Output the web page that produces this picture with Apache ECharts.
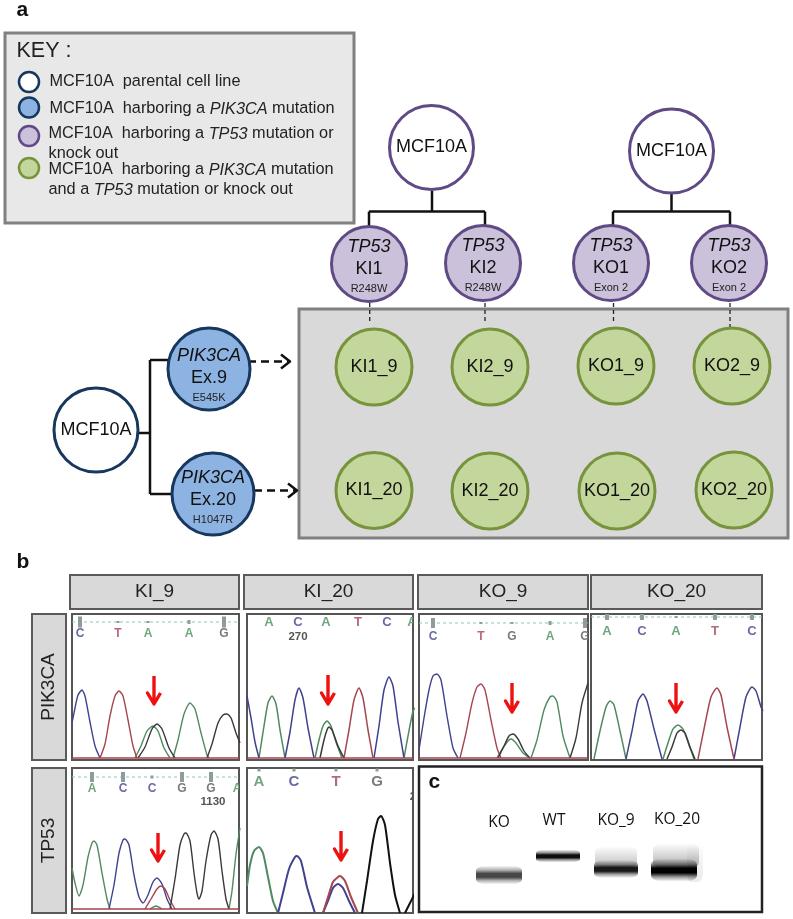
<!DOCTYPE html>
<html><head><meta charset="utf-8">
<style>html,body{margin:0;padding:0;background:#fff}#c{width:793px;height:919px}</style>
<script src="https://cdn.jsdelivr.net/npm/echarts@6/dist/echarts.min.js"></script>
</head><body><div id="c"></div>
<script>
const FONT = '"Liberation Sans", Arial, sans-serif';

// ---------- key ----------
const keyLines = [
  '{n|MCF10A  parental cell line}',
  '{n|MCF10A  harboring a }{i|PIK3CA}{n| mutation}',
  '{n|MCF10A  harboring a }{i|TP53}{n| mutation or}',
  '{n|knock out}',
  '{n|MCF10A  harboring a }{i|PIK3CA}{n| mutation}',
  '{n|and a }{i|TP53}{n| mutation or knock out}'
];
const keyLineX = [49, 49, 48, 48, 48, 48];
const keyLineY = [82, 109, 134, 154, 170, 190];
const keyDotY = [82, 107.5, 136, 168];

// ---------- lineage diagram ----------
const parentCenters = [[431.5, 147.5], [671.5, 151]];
const pikCenter = [96, 430];
const tpLabels = [['TP53', 'KI1', 'R248W'], ['TP53', 'KI2', 'R248W'], ['TP53', 'KO1', 'Exon 2'], ['TP53', 'KO2', 'Exon 2']];
const tpCenters = [[369, 264], [483, 263], [611, 263], [729, 263]];
const pikLabels = [['PIK3CA', 'Ex.9', 'E545K'], ['PIK3CA', 'Ex.20', 'H1047R']];
const pikCenters = [[209, 369], [213, 494]];
const doubleLabels = ['KI1_9', 'KI2_9', 'KO1_9', 'KO2_9', 'KI1_20', 'KI2_20', 'KO1_20', 'KO2_20'];
const doubleCenters = [[374, 367], [490, 367], [616, 366], [732, 366], [374, 490.5], [490, 491], [617, 491], [734, 490]];
const solidLinks = [
  [[139, 433], [150, 433]], [[150, 360], [150, 494]], [[150, 360], [170, 360]], [[150, 494], [172, 494]],
  [[432, 191], [432, 211.5]], [[369, 211.5], [485, 211.5]], [[369, 211.5], [369, 226]], [[485, 211.5], [485, 226]],
  [[671.5, 194], [671.5, 211.5]], [[613, 211.5], [730, 211.5]], [[613, 211.5], [613, 225]], [[730, 211.5], [730, 225]]
];
const dashedArrows = [[[248, 361.5], [290, 361.5]], [[254, 490.5], [297, 490.5]]];
const thinDashed = [[[369.7, 303], [369.7, 323]], [[485, 303], [485, 323]], [[613.5, 303], [613.5, 323]], [[730, 303], [730, 328]]];

// ---------- panel b ----------
const headerNames = ['KI_9', 'KI_20', 'KO_9', 'KO_20'];
const headerLeft = [70, 244, 418, 591];
const headerRight = [239, 413, 588, 762];
const rowNames = ['PIK3CA', 'TP53'];
const rowTop = [614, 768];
const rowBottom = [760, 913];

const panelLeft = [72, 247, 419, 591, 72, 247];
const panelRight = [239, 413, 588, 762, 239, 413];
const panelTop = [614, 614, 614, 614, 768, 768];
const panelBottom = [760, 760, 760, 760, 913, 913];
const panelBaseline = [758, 758, 758, 759, 909, 913];

const ki9Blue = [[0,35],[3,50],[6,63],[10,68],[13,62],[18,36],[23,12],[28,0]];
const ki9Red = [[28,0],[33,14],[38,42],[43,62],[47,67],[51,62],[56,38],[61,12],[65,0]];
const ki9Green = [[63,0],[69,12],[75,27],[81,32],[86,27],[92,10],[98,0],[100,'-'],[101,0],[106,18],[112,44],[118,55],[123,49],[129,25],[135,3],[137,0]];
const ki9Black = [[66,0],[73,11],[80,29],[85,34],[90,29],[97,10],[103,0],[120,'-'],[135,0],[140,14],[146,35],[151,43],[155,44],[159,40],[164,25],[168,15]];

const ki20Blue = [[0,62],[4,40],[8,16],[12,0],[20,'-'],[38,0],[43,26],[48,58],[52,70],[56,60],[61,30],[67,0],[100,'-'],[127,0],[132,32],[137,68],[142,81],[146,72],[151,36],[157,0]];
const ki20Green = [[12,0],[17,32],[21,55],[25,62],[29,54],[33,28],[38,0],[50,'-'],[68,0],[72,18],[76,32],[80,37],[84,32],[89,16],[95,0],[120,'-'],[157,0],[161,22],[166,47],[168,50]];
const ki20Black = [[73,0],[77,18],[80,28],[82,31],[85,28],[91,12],[97,0]];
const ki20Red = [[97,0],[102,28],[107,58],[112,70],[116,60],[121,28],[126,0]];

const ko9Blue = [[0,8],[5,40],[10,68],[14,82],[18,84],[22,78],[28,42],[34,10],[39,0]];
const ko9Red = [[41,0],[47,25],[53,55],[58,71],[62,74],[66,68],[72,38],[78,10],[82,0]];
const ko9Green = [[78,0],[84,10],[89,17],[92,19],[97,15],[104,5],[111,0],[111.5,'-'],[112,0],[118,18],[125,48],[131,61],[134,62],[138,56],[144,22],[151,0]];
const ko9Black = [[79,0],[85,12],[90,22],[94,24],[99,19],[105,7],[111,0],[130,'-'],[151,0],[157,20],[163,55],[169,75]];

const ko20Green = [[3,0],[9,28],[15,52],[19,58],[23,54],[29,28],[35,0],[50,'-'],[72,0],[77,16],[82,30],[87,34],[92,30],[98,14],[103,0]];
const ko20Blue = [[35,0],[41,28],[47,58],[52,65],[56,58],[63,30],[71,0],[100,'-'],[143,0],[149,32],[155,62],[161,72],[165,68],[170,52],[172,48]];
const ko20Black = [[76,0],[81,12],[86,26],[90,29],[94,26],[99,12],[104,0]];
const ko20Red = [[107,0],[113,30],[120,62],[126,71],[130,64],[136,32],[143,0]];

const tpKi9Blue = [[37,0],[42,24],[47,56],[51,69],[53,70],[57,64],[62,34],[67,12],[71,6],[76,14],[81,27],[85,31],[90,25],[95,10],[100,0]];
const tpKi9Red = [[73,0],[79,10],[85,20],[89,23],[93,20],[98,9],[103,0]];
const tpKi9Green = [[0,41],[3,26],[7,13],[11,24],[16,52],[20,66],[22,68],[25,64],[30,36],[35,10],[38,0],[60,'-'],[78,0],[84,3],[90,0],[120,'-'],[157,0],[160,18],[164,55],[168,81]];
const tpKi9Black = [[98,0],[103,30],[108,64],[112,75],[114,76],[118,68],[122,36],[125,16],[127,10],[130,18],[134,48],[139,74],[142,78],[146,70],[150,38],[154,10],[157,0]];

const tpKi20Blue = [[31,0],[36,20],[42,44],[48,56],[50,57],[54,52],[60,26],[68,0],[72,'-'],[76,0],[81,12],[86,25],[91,29],[96,25],[102,12],[108,0]];
const tpKi20Red = [[76,0],[81,16],[86,31],[91,36],[93,37],[98,32],[104,16],[111,0]];
const tpKi20Green = [[0,27],[3,48],[7,62],[12,66],[16,60],[21,36],[26,12],[31,0]];
const tpKi20Black = [[115,0],[120,32],[126,72],[131,94],[134,97],[138,88],[143,50],[148,18],[153,0],[155,'-'],[158,0],[162,8],[168,20]];

const panelTraces = [
  [ki9Green, ki9Blue, ki9Red, ki9Black],
  [ki20Green, ki20Blue, ki20Red, ki20Black],
  [ko9Green, ko9Blue, ko9Red, ko9Black],
  [ko20Green, ko20Blue, ko20Red, ko20Black],
  [tpKi9Green, tpKi9Blue, tpKi9Red, tpKi9Black],
  [tpKi20Green, tpKi20Blue, tpKi20Red, tpKi20Black]
];
const traceColors = ['#4f8a60', '#40428f', '#a5474f', '#3a3a3a'];
const panelTraceWidth = [1.4, 1.5, 1.4, 1.5, 1.4, 2];
const panelHasBaseline = [true, true, true, false, true, false];

const baseLetters = [['C','T','A','A','G'], ['A','C','A','T','C','A'], ['C','T','G','A','G'], ['A','C','A','T','C'], ['A','C','C','G','G','A'], ['A','C','T','G']];
const basePos = [[8,46,76,117,152], [22,51,79,111,140,165], [14,62,93,131,166], [16,51,85,124,161], [20,51,80,110,139,165], [12,47,89,130]];
const baseLevel = [124, 136, 121, 128, 120, 131];
const baseFont = [12, 13, 12, 13, 12, 15];
const tealLevel = [136, null, 135, 142, 132, null];
const tickSize = [[11,2,2,4,11], [], [10,2,2,4,10], [6,6,2,6,6], [10,10,3,10,10,0], [3,3,3,3]];
const tickLevel = [136, null, 135, 142, 132, 143];
const positionText = [[], [['270', 51, 121]], [], [], [['1130', 141, 107]], [['2', 166, 116]]];
const letterColor = {A: '#6fa67f', C: '#6a6aa8', G: '#7a7a7a', T: '#b56a78'};

const redArrowX = [154, 328, 512, 676, 158, 341];
const redArrowTop = [676, 675, 683, 683, 833, 831];
const redArrowBottom = [704, 704, 712, 712, 861, 860];

// ---------- panel c ----------
const gelLanes = ['KO', 'WT', 'KO_9', 'KO_20'];
const gelLaneX = [499, 554, 616, 677];
const gelLaneY = [823, 821, 821, 820];
const gelSmearX = [616, 676, 695];
const gelSmearY = [857, 856, 862];
const gelSmearW = [42, 46, 16];
const gelSmearH = [22, 26, 40];
const gelSmearInk = [0.16, 0.2, 0.06];
const gelBandX = [499, 558, 616, 674];
const gelBandY = [875, 856, 869, 870];
const gelBandW = [46, 44, 44, 46];
const gelBandH = [19, 13, 18, 23];
const gelBandInk = [0.72, 0.95, 0.9, 1];

// ---------- builders ----------
function circleItem(c, r, fill, stroke, sw, label) {
  return {value: c, symbol: 'circle', symbolSize: r * 2, itemStyle: {color: fill, borderColor: stroke, borderWidth: sw, opacity: 1},
    label: label || {show: false}};
}
function nodeRich() {
  return {
    i: {fontFamily: FONT, fontStyle: 'italic', fontSize: 18, lineHeight: 22, color: '#111'},
    n: {fontFamily: FONT, fontSize: 18, lineHeight: 22, color: '#111'},
    s: {fontFamily: FONT, fontSize: 11, lineHeight: 18, color: '#222'}
  };
}
function nodeLabel(text, dy) {
  return {show: true, position: 'inside', formatter: text, rich: nodeRich(), offset: [0, dy || 0], color: '#111'};
}
function textItem(x, y, text, style) {
  return {value: [x, y], symbol: 'circle', symbolSize: 1, itemStyle: {color: 'transparent', opacity: 1},
    label: Object.assign({show: true, formatter: text, position: 'right', distance: 0, fontFamily: FONT, color: '#111'}, style)};
}
function scatterSeries(data, z, axis) {
  return {type: 'scatter', xAxisIndex: axis || 0, yAxisIndex: axis || 0, z, silent: true, clip: false, animation: false, data};
}
function pageLine(pts, color, width, dash, z) {
  return {type: 'line', xAxisIndex: 0, yAxisIndex: 0, data: pts, showSymbol: false, silent: true, z, animation: false, clip: false,
    lineStyle: {color, width, type: dash || 'solid', cap: 'butt', join: 'round'}};
}
function boxSeries(boxes, z) {
  return {type: 'custom', coordinateSystem: 'cartesian2d', xAxisIndex: 0, yAxisIndex: 0, silent: true, z, clip: false, animation: false,
    data: boxes.map(b => b.slice(0, 4)),
    renderItem: (params, api) => {
      const a = api.coord([api.value(0), api.value(1)]), b = api.coord([api.value(2), api.value(3)]);
      const s = boxes[params.dataIndex][4];
      return {type: 'rect', shape: {x: a[0], y: a[1], width: b[0] - a[0], height: b[1] - a[1]},
        style: {fill: s.fill, stroke: s.stroke, lineWidth: s.width}};
    }};
}

const series = [];
const KEYBOX = {fill: '#e8e8e8', stroke: '#808080', width: 3};
const GRAYBOX = {fill: '#d9d9d9', stroke: '#808080', width: 3};
const GELBOX = {fill: '#fff', stroke: '#222', width: 2.5};
const HEADER = {fill: '#d9d9d9', stroke: '#5a5a5a', width: 2};
series.push(boxSeries([
  [5, 33, 354, 223, KEYBOX], [299, 309, 788, 538, GRAYBOX], [419, 766.5, 762, 912, GELBOX]
].concat(headerNames.map((n, i) => [headerLeft[i], 575, headerRight[i], 609, HEADER]))
 .concat(rowNames.map((n, i) => [32, rowTop[i], 66, rowBottom[i], HEADER])), 1));

// connectors
solidLinks.forEach(s => series.push(pageLine(s, '#111', 2.5, 'solid', 2)));
dashedArrows.forEach(s => {
  series.push(pageLine(s, '#111', 2.5, [8, 5], 2));
  const tip = s[1];
  series.push(pageLine([[tip[0] - 9, tip[1] - 7], tip, [tip[0] - 9, tip[1] + 7]], '#111', 2.5, 'solid', 2));
});
thinDashed.forEach(s => series.push(pageLine(s, '#222', 1.3, [4, 3], 2)));

// nodes
const PURPLE = '#5f4a85', NAVY = '#17375e', OLIVE = '#77933c';
const nodes = [];
parentCenters.forEach(c => nodes.push(circleItem(c, 42, '#fff', PURPLE, 3, nodeLabel('{n|MCF10A}'))));
nodes.push(circleItem(pikCenter, 42, '#fff', NAVY, 3, nodeLabel('{n|MCF10A}')));
tpLabels.forEach((l, i) => nodes.push(circleItem(tpCenters[i], 37.5, '#ccc1da', PURPLE, 3,
  nodeLabel('{i|' + l[0] + '}\n{n|' + l[1] + '}\n{s|' + l[2] + '}', 3))));
pikLabels.forEach((l, i) => nodes.push(circleItem(pikCenters[i], 41, '#8db3e2', NAVY, 3,
  nodeLabel('{i|' + l[0] + '}\n{n|' + l[1] + '}\n{s|' + l[2] + '}', i ? 4 : 7))));
doubleLabels.forEach((l, i) => nodes.push(circleItem(doubleCenters[i], 38, '#c3d69b', OLIVE, 3, nodeLabel('{n|' + l + '}'))));
const keyFills = ['#fff', '#8db3e2', '#ccc1da', '#c3d69b'];
const keyStrokes = [NAVY, NAVY, PURPLE, OLIVE];
keyDotY.forEach((y, i) => nodes.push(circleItem([29, y], 10, keyFills[i], keyStrokes[i], 2.5)));
series.push(scatterSeries(nodes, 3));

// text
const keyRich = {
  n: {fontFamily: FONT, fontSize: 16.3, color: '#222'},
  i: {fontFamily: FONT, fontSize: 16.3, fontStyle: 'italic', color: '#222'}
};
const texts = keyLines.map((t, i) => textItem(keyLineX[i], keyLineY[i], t, {rich: keyRich}));
texts.push(textItem(16, 51, 'KEY :', {fontSize: 21.5, color: '#222'}));
texts.push(textItem(16, 10, 'a', {fontSize: 21, fontWeight: 'bold'}));
texts.push(textItem(16, 562, 'b', {fontSize: 21, fontWeight: 'bold'}));
texts.push(textItem(428, 782, 'c', {fontSize: 21, fontWeight: 'bold'}));
headerNames.forEach((n, i) => texts.push(textItem((headerLeft[i] + headerRight[i]) / 2, 592, n,
  {fontSize: 19, position: 'inside', color: '#222'})));
rowNames.forEach((n, i) => texts.push(textItem(49, (rowTop[i] + rowBottom[i]) / 2, n,
  {fontSize: 19, position: 'inside', rotate: 90, color: '#222'})));
gelLanes.forEach((n, i) => texts.push(textItem(gelLaneX[i], gelLaneY[i], n,
  {fontFamily: '"Open Sans", sans-serif', fontSize: 15.5, position: 'inside', color: '#111'})));
series.push(scatterSeries(texts, 12));

// gel: soft bands from vertical gradients
function bandFill(ink) {
  const c = a => 'rgba(0,0,0,' + a + ')';
  return new echarts.graphic.LinearGradient(0, 0, 0, 1, [
    {offset: 0, color: c(0)}, {offset: 0.25, color: c(ink * 0.45)}, {offset: 0.42, color: c(ink)},
    {offset: 0.62, color: c(ink)}, {offset: 0.8, color: c(ink * 0.4)}, {offset: 1, color: c(0)}]);
}
function smearFill(ink) {
  return new echarts.graphic.LinearGradient(0, 0, 0, 1, [
    {offset: 0, color: 'rgba(0,0,0,0)'}, {offset: 0.6, color: 'rgba(0,0,0,' + ink + ')'}, {offset: 1, color: 'rgba(0,0,0,' + ink * 1.2 + ')'}]);
}
series.push(scatterSeries(gelSmearX.map((x, i) => ({value: [x, gelSmearY[i]], symbol: 'roundRect', symbolSize: [gelSmearW[i], gelSmearH[i]],
  itemStyle: {color: smearFill(gelSmearInk[i]), opacity: 1}})), 4));
series.push(scatterSeries(gelBandX.map((x, i) => ({value: [x, gelBandY[i]], symbol: 'roundRect', symbolSize: [gelBandW[i], gelBandH[i]],
  itemStyle: {color: bandFill(gelBandInk[i]), opacity: 1}})), 5));

// red arrows
redArrowX.forEach((x, i) => {
  const t = redArrowTop[i], b = redArrowBottom[i];
  series.push(pageLine([[x, t], [x, b], [x - 6.5, b - 11], [x, b], [x + 6.5, b - 11]], '#ee1111', 3.4, 'solid', 11));
});

// chromatogram panels
const grids = [{left: 0, top: 0, width: 793, height: 919, show: false}];
const xAxes = [{type: 'value', gridIndex: 0, min: 0, max: 793, show: false}];
const yAxes = [{type: 'value', gridIndex: 0, min: 0, max: 919, inverse: true, show: false}];
panelLeft.forEach((left, p) => {
  const w = panelRight[p] - left, h = panelBottom[p] - panelTop[p];
  const yMin = panelBaseline[p] - panelBottom[p];
  const ax = p + 1;
  grids.push({left, top: panelTop[p], width: w, height: h, show: true, backgroundColor: '#fff', borderColor: '#555', borderWidth: 2});
  xAxes.push({type: 'value', gridIndex: ax, min: 0, max: w, show: false});
  yAxes.push({type: 'value', gridIndex: ax, min: yMin, max: yMin + h, show: false});
  panelTraces[p].forEach((tr, c) => series.push({
    type: 'line', xAxisIndex: ax, yAxisIndex: ax, data: tr, showSymbol: false, smooth: 0.22,
    connectNulls: false, silent: true, z: 6, animation: false, clip: true,
    lineStyle: {color: p === 5 && c === 3 ? '#111' : traceColors[c], width: panelTraceWidth[p]}
  }));
  if (panelHasBaseline[p]) {
    series.push({type: 'line', xAxisIndex: ax, yAxisIndex: ax, data: [[0, 0], [w, 0]], showSymbol: false, silent: true, z: 7,
      animation: false, lineStyle: {color: '#a8404a', width: 1.5}});
  }
  if (tealLevel[p] !== null) {
    series.push({type: 'line', xAxisIndex: ax, yAxisIndex: ax, data: [[0, tealLevel[p]], [w, tealLevel[p]]], showSymbol: false, silent: true, z: 6,
      animation: false, lineStyle: {color: '#86c8c0', width: 1.2, type: [3, 3]}});
  }
  if (tickLevel[p] !== null) {
    series.push(scatterSeries(tickSize[p].map((s, k) => ({value: [basePos[p][k], tickLevel[p]], symbol: 'rect',
      symbolSize: [s > 5 ? 4 : 3, s], itemStyle: {color: '#8f9c9c', opacity: 1}})), 7, ax));
  }
  const letters = baseLetters[p];
  series.push({type: 'custom', coordinateSystem: 'cartesian2d', xAxisIndex: ax, yAxisIndex: ax, silent: true, z: 8, clip: true, animation: false,
    data: basePos[p].map(x => [x, baseLevel[p]]),
    renderItem: (params, api) => {
      const pt = api.coord([api.value(0), api.value(1)]);
      const L = letters[params.dataIndex];
      return {type: 'text', style: {text: L, x: pt[0], y: pt[1], fill: letterColor[L], align: 'center', verticalAlign: 'middle',
        font: 'bold ' + baseFont[p] + 'px ' + FONT}};
    }});
  if (positionText[p].length) {
    const labels = positionText[p];
    series.push({type: 'custom', coordinateSystem: 'cartesian2d', xAxisIndex: ax, yAxisIndex: ax, silent: true, z: 8, clip: true, animation: false,
      data: labels.map(l => [l[1], l[2]]),
      renderItem: (params, api) => {
        const pt = api.coord([api.value(0), api.value(1)]);
        return {type: 'text', style: {text: labels[params.dataIndex][0], x: pt[0], y: pt[1], fill: '#555', align: 'center', verticalAlign: 'middle',
          font: 'bold 11.5px ' + FONT}};
      }});
  }
});

const chart = echarts.init(document.getElementById('c'), null, {renderer: 'canvas', width: 793, height: 919});
chart.setOption({animation: false, backgroundColor: '#fff', tooltip: {show: false}, legend: {show: false},
  grid: grids, xAxis: xAxes, yAxis: yAxes, series});
</script></body></html>
